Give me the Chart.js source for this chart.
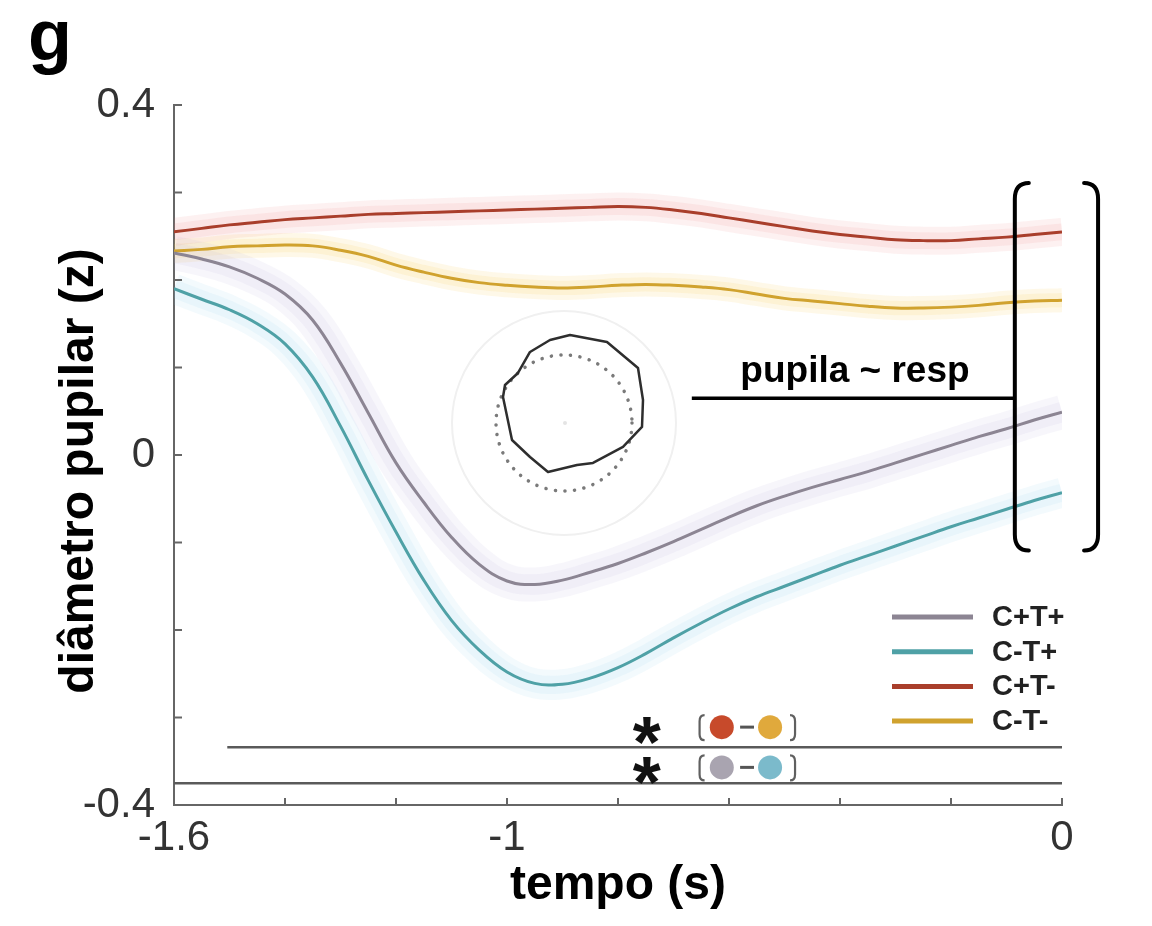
<!DOCTYPE html>
<html>
<head>
<meta charset="utf-8">
<script src="https://cdn.jsdelivr.net/npm/chart.js@4.4.1/dist/chart.umd.min.js"></script>
<style>
  html, body { margin: 0; padding: 0; background: #fff; }
</style>
</head>
<body>
<canvas id="myChart" width="1152" height="926"></canvas>
<script>
// time (s) before the response
var time = [-1.6, -1.55, -1.5, -1.45, -1.4, -1.35, -1.3, -1.25, -1.2, -1.15, -1.1,
  -1.05, -1.0, -0.95, -0.9, -0.85, -0.8, -0.75, -0.7, -0.65, -0.6, -0.55, -0.5,
  -0.45, -0.4, -0.35, -0.3, -0.25, -0.2, -0.15, -0.1, -0.05, 0];

var seriesLabels = ['C+T+', 'C-T+', 'C+T-', 'C-T-'];

// pupil diameter (z) per condition
var cPlusTPlus = [0.231, 0.224, 0.215, 0.202, 0.184, 0.154, 0.105, 0.048, -0.009, -0.054, -0.094,
  -0.125, -0.144, -0.148, -0.143, -0.134, -0.124, -0.112, -0.099, -0.085, -0.071, -0.058, -0.047,
  -0.037, -0.028, -0.019, -0.009, 0.001, 0.011, 0.021, 0.030, 0.040, 0.049];
var cMinusTPlus = [0.190, 0.178, 0.166, 0.150, 0.127, 0.089, 0.033, -0.029, -0.088, -0.143, -0.189,
  -0.223, -0.248, -0.261, -0.262, -0.255, -0.243, -0.227, -0.209, -0.192, -0.176, -0.162, -0.150,
  -0.138, -0.126, -0.115, -0.104, -0.093, -0.082, -0.072, -0.062, -0.052, -0.043];
var cPlusTMinus = [0.255, 0.259, 0.263, 0.266, 0.269, 0.271, 0.273, 0.275, 0.276, 0.277, 0.278,
  0.279, 0.280, 0.281, 0.282, 0.283, 0.284, 0.283, 0.280, 0.276, 0.271, 0.266, 0.261,
  0.256, 0.252, 0.249, 0.246, 0.245, 0.245, 0.247, 0.249, 0.252, 0.255];
var cMinusTMinus = [0.233, 0.235, 0.238, 0.239, 0.240, 0.239, 0.234, 0.227, 0.217, 0.209, 0.202,
  0.197, 0.194, 0.192, 0.191, 0.192, 0.194, 0.195, 0.194, 0.192, 0.189, 0.184, 0.179,
  0.176, 0.173, 0.170, 0.168, 0.168, 0.169, 0.171, 0.174, 0.176, 0.177];

// significance bars: level and start time, pairs compared
var sigLevels = [-0.334, -0.375];
var sigStarts = [-1.504, -1.6];
var sigEnd = 0;
var sigPairs = [[2, 3], [0, 1]];

var xTickValues = [-1.6, -1.4, -1.2, -1, -0.8, -0.6, -0.4, -0.2, 0];
var xLabelValues = [-1.6, -1, 0];
var yTickValues = [-0.4, -0.3, -0.2, -0.1, 0, 0.1, 0.2, 0.3, 0.4];
var yLabelValues = [-0.4, 0, 0.4];

// styles
var family = "'Liberation Sans', Arial, Helvetica, sans-serif";
var lineColors = ['#8c8593', '#4fa1a6', '#a93e2b', '#d0a22e'];
var bandColors = ['rgba(180,170,215,0.10)', 'rgba(140,205,235,0.10)', 'rgba(240,120,120,0.10)', 'rgba(245,200,80,0.13)'];
var bandWidths = [34, 30, 28, 24];
var dotColors = ['#a9a4b0', '#7bbacb', '#c74a2b', '#e0a93c'];

// pupil sketch outline, pixel offsets from its centre
var pupilOutline = [[5, -88], [42, -81], [73, -55], [78, -23], [77, 4], [58, 24], [28, 40], [12, 42],
  [-17, 49], [-35, 34], [-53, 17], [-62, -26], [-60, -38], [-47, -50], [-35, -71], [-15, -83]];

function fmt(v) {
  var r = Math.round(v * 10) / 10;
  return r === 0 ? '0' : String(r);
}
function inList(list, v) {
  return list.some(function (l) { return Math.abs(l - v) < 1e-6; });
}

var series = [cPlusTPlus, cMinusTPlus, cPlusTMinus, cMinusTMinus];
var datasets = [];
series.forEach(function (vals, i) {
  var pts = time.map(function (t, k) { return { x: t, y: vals[k] }; });
  datasets.push({
    label: seriesLabels[i], data: pts, borderColor: lineColors[i], borderWidth: 3,
    pointRadius: 0, tension: 0.4, fill: false, order: 2
  });
  // soft error band: two translucent strokes of the same curve
  [1, 0.6].forEach(function (f) {
    datasets.push({
      label: seriesLabels[i] + ' sem', data: pts, borderColor: bandColors[i], borderWidth: bandWidths[i] * f,
      pointRadius: 0, tension: 0.4, fill: false, order: 5, borderCapStyle: 'butt'
    });
  });
});
sigLevels.forEach(function (lvl, i) {
  datasets.push({
    label: 'sig' + i, data: [{ x: sigStarts[i], y: lvl }, { x: sigEnd, y: lvl }],
    borderColor: '#5a5a5a', borderWidth: 2.5, pointRadius: 0, fill: false, order: 1
  });
});

var overlay = {
  id: 'overlay',
  afterDraw: function (chart) {
    var ctx = chart.ctx, a = chart.chartArea, x = chart.scales.x, y = chart.scales.y;
    ctx.save();

    // inward tick marks
    ctx.strokeStyle = '#666';
    ctx.lineWidth = 2;
    x.ticks.forEach(function (t) {
      var px = x.getPixelForValue(t.value);
      ctx.beginPath(); ctx.moveTo(px, a.bottom); ctx.lineTo(px, a.bottom - 7); ctx.stroke();
    });
    y.ticks.forEach(function (t) {
      var py = y.getPixelForValue(t.value);
      ctx.beginPath(); ctx.moveTo(a.left, py); ctx.lineTo(a.left + 8, py); ctx.stroke();
    });

    // panel letter and axis titles
    ctx.fillStyle = '#000';
    ctx.textBaseline = 'alphabetic';
    ctx.textAlign = 'left';
    ctx.font = 'bold 72px ' + family;
    ctx.fillText('g', 28, 60);
    ctx.textAlign = 'center';
    ctx.font = 'bold 48px ' + family;
    ctx.fillText('tempo (s)', (a.left + a.right) / 2, 899);
    ctx.save();
    ctx.translate(93, 471);
    ctx.rotate(-Math.PI / 2);
    ctx.font = 'bold 48px ' + family;
    ctx.fillText('diâmetro pupilar (z)', 0, 0);
    ctx.restore();

    // legend
    ctx.textAlign = 'left';
    ctx.textBaseline = 'middle';
    ctx.font = 'bold 29px ' + family;
    seriesLabels.forEach(function (lab, i) {
      var ly = a.bottom - 188 + i * 34.7;
      ctx.strokeStyle = lineColors[i];
      ctx.lineWidth = 5;
      ctx.beginPath(); ctx.moveTo(a.right - 170, ly); ctx.lineTo(a.right - 89, ly); ctx.stroke();
      ctx.fillStyle = '#222';
      ctx.fillText(lab, a.right - 70, ly + 1);
    });

    // significance markers
    var markY = [-0.311, -0.357];
    sigPairs.forEach(function (pair, i) {
      var cy = y.getPixelForValue(markY[i]);
      ctx.fillStyle = '#111';
      ctx.textAlign = 'center';
      ctx.textBaseline = 'alphabetic';
      ctx.font = 'bold 72px ' + family;
      ctx.fillText('*', x.getPixelForValue(-0.748), cy + 40);
      var bl = x.getPixelForValue(-0.653), br = x.getPixelForValue(-0.481);
      ctx.strokeStyle = '#606060';
      ctx.lineWidth = 2.2;
      ctx.beginPath();
      ctx.moveTo(bl + 5, cy - 12); ctx.quadraticCurveTo(bl, cy - 12, bl, cy - 6);
      ctx.lineTo(bl, cy + 7); ctx.quadraticCurveTo(bl, cy + 13, bl + 5, cy + 13);
      ctx.moveTo(br - 5, cy - 12); ctx.quadraticCurveTo(br, cy - 12, br, cy - 6);
      ctx.lineTo(br, cy + 7); ctx.quadraticCurveTo(br, cy + 13, br - 5, cy + 13);
      ctx.stroke();
      ctx.strokeStyle = '#555';
      ctx.lineWidth = 3;
      ctx.beginPath();
      ctx.moveTo(x.getPixelForValue(-0.580), cy); ctx.lineTo(x.getPixelForValue(-0.555), cy);
      ctx.stroke();
      [-0.613, -0.526].forEach(function (tx, k) {
        ctx.beginPath();
        ctx.arc(x.getPixelForValue(tx), cy, 12, 0, Math.PI * 2);
        ctx.fillStyle = dotColors[pair[k]];
        ctx.fill();
      });
    });

    // pupil sketch
    var pcx = x.getPixelForValue(-0.8955), pcy = y.getPixelForValue(0.0366);
    ctx.strokeStyle = '#f0f0f0';
    ctx.lineWidth = 2;
    ctx.beginPath(); ctx.arc(pcx - 1, pcy, 112, 0, Math.PI * 2); ctx.stroke();
    ctx.fillStyle = '#e4e4e4';
    ctx.beginPath(); ctx.arc(pcx, pcy, 2, 0, Math.PI * 2); ctx.fill();
    ctx.save();
    ctx.strokeStyle = '#7a7a7a';
    ctx.lineWidth = 3.5;
    ctx.lineCap = 'round';
    ctx.setLineDash([0.1, 9.5]);
    ctx.beginPath(); ctx.arc(pcx - 1, pcy, 68, 0, Math.PI * 2); ctx.stroke();
    ctx.restore();
    ctx.strokeStyle = '#2e2e2e';
    ctx.lineWidth = 2.5;
    ctx.lineJoin = 'round';
    ctx.beginPath();
    pupilOutline.forEach(function (p, k) {
      if (k === 0) ctx.moveTo(pcx + p[0], pcy + p[1]); else ctx.lineTo(pcx + p[0], pcy + p[1]);
    });
    ctx.closePath();
    ctx.stroke();

    // pupila ~ resp bracket
    var bx0 = x.getPixelForValue(-0.085), bx1 = x.getPixelForValue(0.065);
    var by0 = y.getPixelForValue(0.311), by1 = y.getPixelForValue(-0.109);
    ctx.strokeStyle = '#000';
    ctx.lineWidth = 4;
    ctx.lineCap = 'round';
    ctx.beginPath();
    ctx.moveTo(bx0 + 14, by0); ctx.quadraticCurveTo(bx0, by0, bx0, by0 + 16);
    ctx.lineTo(bx0, by1 - 16); ctx.quadraticCurveTo(bx0, by1, bx0 + 14, by1);
    ctx.moveTo(bx1 - 14, by0); ctx.quadraticCurveTo(bx1, by0, bx1, by0 + 16);
    ctx.lineTo(bx1, by1 - 16); ctx.quadraticCurveTo(bx1, by1, bx1 - 14, by1);
    ctx.stroke();
    var hy = y.getPixelForValue(0.065);
    ctx.lineWidth = 3.5;
    ctx.lineCap = 'butt';
    ctx.beginPath(); ctx.moveTo(x.getPixelForValue(-0.667), hy); ctx.lineTo(bx0, hy); ctx.stroke();
    ctx.fillStyle = '#000';
    ctx.textAlign = 'center';
    ctx.textBaseline = 'alphabetic';
    ctx.font = 'bold 37px ' + family;
    ctx.fillText('pupila ~ resp', x.getPixelForValue(-0.373), hy - 16);

    ctx.restore();
  }
};

var config = {
  type: 'line',
  data: { datasets: datasets },
  options: {
    responsive: false,
    animation: false,
    layout: { padding: { top: 105, right: 90, left: 0, bottom: 0 } },
    plugins: { legend: { display: false }, tooltip: { enabled: false } },
    scales: {
      x: {
        type: 'linear', min: -1.6, max: 0,
        afterBuildTicks: function (s) { s.ticks = xTickValues.map(function (v) { return { value: v }; }); },
        afterFit: function (s) { s.height = 121; },
        grid: { display: false },
        border: { display: true, color: '#666', width: 2 },
        ticks: {
          autoSkip: false, maxRotation: 0, padding: 0, color: '#333',
          font: { family: family, size: 42 },
          callback: function (v) { return inList(xLabelValues, v) ? fmt(v) : ''; }
        }
      },
      y: {
        type: 'linear', min: -0.4, max: 0.4,
        afterBuildTicks: function (s) { s.ticks = yTickValues.map(function (v) { return { value: v }; }); },
        afterFit: function (s) { s.width = 174; },
        grid: { display: false },
        border: { display: true, color: '#666', width: 2 },
        ticks: {
          autoSkip: false, padding: 11, color: '#333',
          font: { family: family, size: 42 },
          callback: function (v) { return inList(yLabelValues, v) ? fmt(v) : ''; }
        }
      }
    }
  },
  plugins: [overlay]
};

var ctx = document.getElementById('myChart').getContext('2d');
var chart = new Chart(ctx, config);
</script>
</body>
</html>
